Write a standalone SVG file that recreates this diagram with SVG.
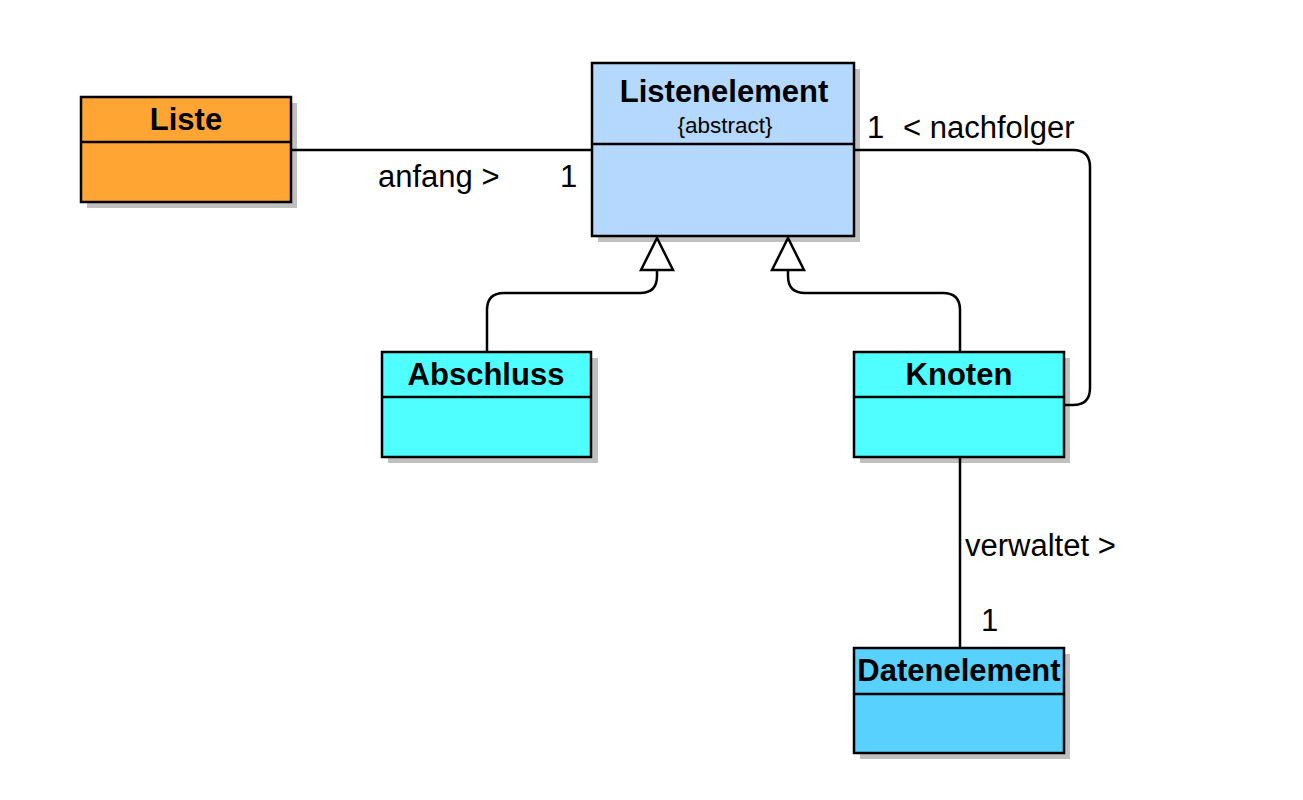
<svg xmlns="http://www.w3.org/2000/svg" width="1303" height="800" viewBox="0 0 1303 800">
<style>
.shadow{fill:#c0c0c0;stroke:none}
.box{stroke:#000;stroke-width:2.5}
.div{stroke:#000;stroke-width:2.5}
.title{font-family:"Liberation Sans",Arial,sans-serif;font-weight:bold;font-size:31px;text-anchor:middle;fill:#000}
.lbl{font-family:"Liberation Sans",Arial,sans-serif;font-size:31px;fill:#000}
.conn{fill:none;stroke:#000;stroke-width:2.5}
.tri{fill:#fff;stroke:#000;stroke-width:2.5}
</style>
<rect width="1303" height="800" fill="#fff"/>
<g id="Liste">
<rect class="shadow" x="87" y="103" width="210" height="105"/>
<rect class="box" x="81" y="97" width="210" height="105" fill="#ffa533"/>
<line class="div" x1="81" y1="142" x2="291" y2="142"/>
<text class="title" x="186" y="130">Liste</text>
</g>
<g id="Listenelement">
<rect class="shadow" x="598" y="69" width="262" height="173"/>
<rect class="box" x="592" y="63" width="262" height="173" fill="#b5d8fe"/>
<line class="div" x1="592" y1="144" x2="854" y2="144"/>
<text class="title" x="724" y="102">Listenelement</text>
<text x="725" y="133" style="font-family:'Liberation Sans',Arial,sans-serif;font-size:22.5px;text-anchor:middle">{abstract}</text>
</g>
<g id="Abschluss">
<rect class="shadow" x="388" y="358" width="210" height="105"/>
<rect class="box" x="382" y="352" width="209" height="105" fill="#4fffff"/>
<line class="div" x1="382" y1="397" x2="591" y2="397"/>
<text class="title" x="486" y="385">Abschluss</text>
</g>
<g id="Knoten">
<rect class="shadow" x="860" y="358" width="210" height="105"/>
<rect class="box" x="854" y="352" width="210" height="105" fill="#4fffff"/>
<line class="div" x1="854" y1="397" x2="1064" y2="397"/>
<text class="title" x="959" y="385">Knoten</text>
</g>
<g id="Datenelement">
<rect class="shadow" x="860" y="654" width="210" height="105"/>
<rect class="box" x="854" y="648" width="210" height="105" fill="#58d1ff"/>
<line class="div" x1="854" y1="694" x2="1064" y2="694"/>
<text class="title" x="959" y="681">Datenelement</text>
</g>
<g id="connectors">
<line class="conn" x1="291" y1="150" x2="592" y2="150"/>
<text class="lbl" x="378" y="187">anfang &gt;</text>
<text class="lbl" x="560" y="187">1</text>
<path class="conn" d="M487,352 V310 Q487,293 504,293 H640 Q657,293 657,276 V270"/>
<polygon class="tri" points="657,238 641,270 673,270"/>
<path class="conn" d="M960,352 V310 Q960,293 943,293 H805 Q788,293 788,276 V270"/>
<polygon class="tri" points="788,238 772,270 804,270"/>
<path class="conn" d="M854,150 H1073 Q1090,150 1090,167 V388 Q1090,405 1073,405 H1064"/>
<text class="lbl" x="867" y="138">1</text>
<text class="lbl" x="903" y="138">&lt; nachfolger</text>
<line class="conn" x1="960" y1="457" x2="960" y2="648"/>
<text class="lbl" x="965" y="556">verwaltet &gt;</text>
<text class="lbl" x="981" y="631">1</text>
</g>
</svg>
